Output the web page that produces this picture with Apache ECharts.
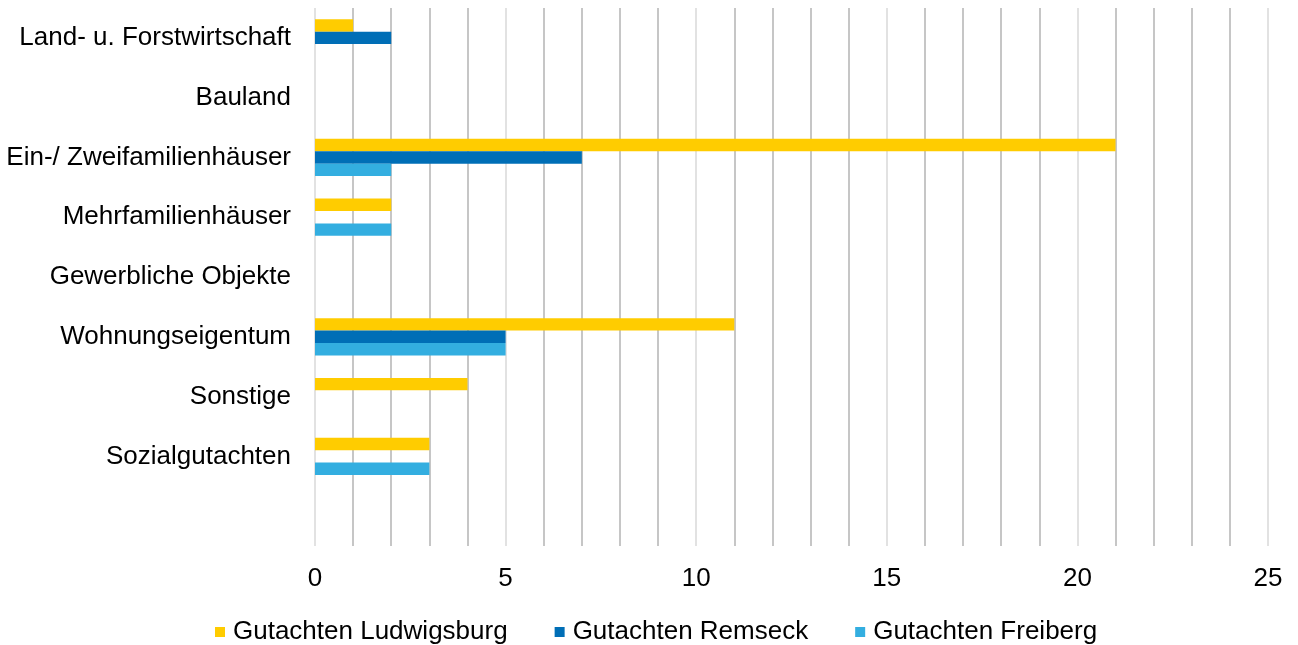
<!DOCTYPE html>
<html>
<head>
<meta charset="utf-8">
<script src="https://cdn.jsdelivr.net/npm/echarts@6/dist/echarts.min.js"></script>
<style>
html,body{margin:0;padding:0;background:#fff;}
#chart{width:1298px;height:645px;}
</style>
</head>
<body>
<div id="chart"></div>
<script>
// Kategorien (letzte Zeile leer wie im Original)
var categories = ["Land- u. Forstwirtschaft", "Bauland", "Ein-/ Zweifamilienhäuser", "Mehrfamilienhäuser",
	"Gewerbliche Objekte", "Wohnungseigentum", "Sonstige", "Sozialgutachten", ""];
var ludwigsburg = [1, 0, 21, 2, 0, 11, 4, 3, null];
var remseck = [2, 0, 7, 0, 0, 5, 0, 0, null];
var freiberg = [0, 0, 2, 2, 0, 5, 0, 3, null];
var seriesNames = ["Gutachten Ludwigsburg", "Gutachten Remseck", "Gutachten Freiberg"];
var colors = ["#FFCC00", "#006EB6", "#33AEE0"];

var myChart = echarts.init(document.getElementById("chart"));
var font = "Liberation Sans, Arial, sans-serif";

function bar(name, data, color) {
	return {
		name: name,
		type: "bar",
		data: data,
		barWidth: 12.4,
		barGap: "0%",
		itemStyle: { color: color },
		emphasis: { disabled: true }
	};
}

var option = {
	animation: false,
	color: colors,
	grid: { left: 315, right: 30, top: 8, bottom: 99, containLabel: false },
	legend: {
		top: 614,
		left: 210,
		itemWidth: 10,
		itemHeight: 10,
		itemGap: 47,
		icon: "rect",
		textStyle: { fontFamily: font, fontSize: 26, color: "#000", padding: [0, 0, 0, 3] },
		data: seriesNames
	},
	xAxis: {
		type: "value",
		min: 0,
		max: 25,
		interval: 5,
		axisLine: { show: false },
		axisTick: { show: false },
		axisLabel: { fontFamily: font, fontSize: 26, color: "#000", margin: 20 },
		splitLine: { lineStyle: { color: "#d9d9d9", width: 1.5 } },
		minorTick: { show: false, splitNumber: 5 },
		minorSplitLine: { show: true, lineStyle: { color: "#b4b4b4", width: 1.5 } }
	},
	yAxis: {
		type: "category",
		inverse: true,
		data: categories,
		axisLine: { show: false },
		axisTick: { show: false },
		axisLabel: { fontFamily: font, fontSize: 26, color: "#000", margin: 24, padding: [4, 0, 0, 0] }
	},
	series: [
		bar(seriesNames[0], ludwigsburg, colors[0]),
		bar(seriesNames[1], remseck, colors[1]),
		bar(seriesNames[2], freiberg, colors[2])
	]
};
myChart.setOption(option);
</script>
</body>
</html>
